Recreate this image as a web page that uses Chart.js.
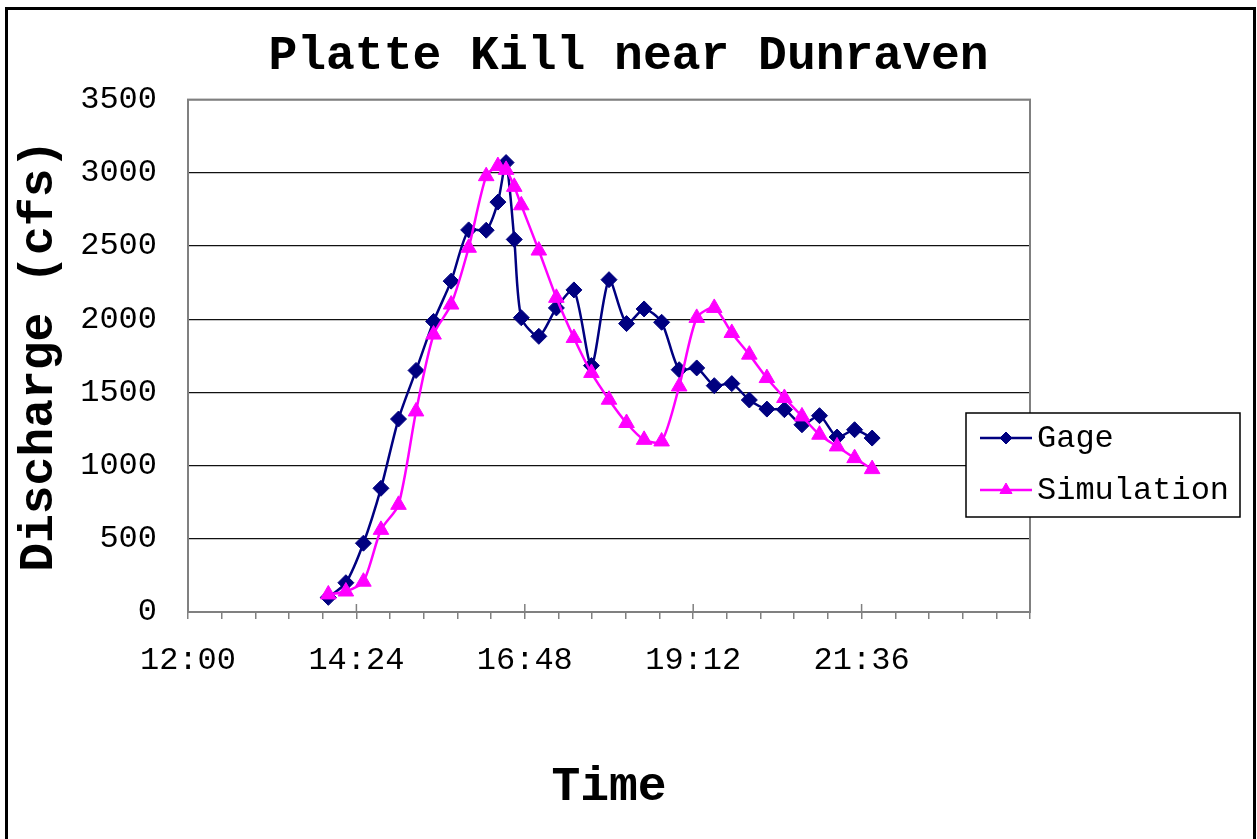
<!DOCTYPE html>
<html>
<head>
<meta charset="utf-8">
<title>Platte Kill near Dunraven</title>
<script src="https://cdn.jsdelivr.net/npm/chart.js@4.4.1/dist/chart.umd.min.js"></script>
<style>
  html, body { margin: 0; padding: 0; background: #fff; overflow: hidden; }
  #wrap { position: relative; width: 1257px; height: 839px; }
  #frame { position: absolute; left: 5px; top: 7px; width: 1245px; height: 900px; border: 3px solid #000; pointer-events: none; }
</style>
</head>
<body>
<div id="wrap">
  <canvas id="flowChart" width="1257" height="839"></canvas>
  <div id="frame"></div>
</div>
<script>
const gageTimes = ["14:00", "14:15", "14:30", "14:45", "15:00", "15:15", "15:30", "15:45",
  "16:00", "16:15", "16:25", "16:32", "16:39", "16:45", "17:00", "17:15", "17:30", "17:45",
  "18:00", "18:15", "18:30", "18:45", "19:00", "19:15", "19:30", "19:45", "20:00", "20:15",
  "20:30", "20:45", "21:00", "21:15", "21:30", "21:45"];
const gageFlow = [100, 200, 470, 845, 1318, 1650, 1985, 2260,
  2610, 2608, 2800, 3070, 2545, 2010, 1883, 2077, 2200, 1683,
  2270, 1970, 2070, 1979, 1655, 1667, 1546, 1560, 1448, 1386,
  1382, 1279, 1341, 1195, 1245, 1188];

const simTimes = gageTimes;
const simFlow = [120, 140, 207, 561, 732, 1370, 1895, 2100,
  2488, 2977, 3046, 3020, 2904, 2778, 2469, 2146, 1872, 1633,
  1450, 1291, 1176, 1165, 1541, 2009, 2077, 1906, 1758, 1598,
  1462, 1336, 1211, 1131, 1051, 976];

// x axis runs noon to midnight, labelled every 2.4 h with 5 minor ticks between
const xMajorLabels = ["12:00", "14:24", "16:48", "19:12", "21:36"];
const yStep = 500;
const yMax = 3500;

function toMinutes(t) {
  const parts = t.split(":");
  return parseInt(parts[0]) * 60 + parseInt(parts[1]);
}

function toPoints(times, values) {
  return times.map((t, i) => ({ x: toMinutes(t), y: values[i] }));
}

const monoFont = '"Liberation Mono", "Courier New", monospace';

// gray frame round the plot area plus the major ticks that cross the axis
const plotFrame = {
  id: "plotFrame",
  beforeDatasetsDraw(chart) {
    const { ctx, chartArea } = chart;
    const xScale = chart.scales.x;
    ctx.save();
    ctx.strokeStyle = "#808080";
    ctx.lineWidth = 2;
    ctx.strokeRect(chartArea.left, chartArea.top, chartArea.width, chartArea.height);
    ctx.lineWidth = 1.5;
    xScale.ticks.forEach((tick) => {
      if (!tick.label) return;
      const px = xScale.getPixelForValue(tick.value);
      ctx.beginPath();
      ctx.moveTo(px, chartArea.bottom - 8);
      ctx.lineTo(px, chartArea.bottom);
      ctx.stroke();
    });
    ctx.restore();
  }
};

// boxed legend sitting over the right edge of the plot, like the original
const legendBox = {
  id: "legendBox",
  afterDraw(chart) {
    const ctx = chart.ctx;
    const left = 966, top = 413, w = 274, h = 104;
    ctx.save();
    ctx.fillStyle = "#fff";
    ctx.fillRect(left, top, w, h);
    ctx.strokeStyle = "#000";
    ctx.lineWidth = 1.5;
    ctx.strokeRect(left, top, w, h);
    chart.data.datasets.forEach((ds, i) => {
      const y = top + 25 + i * 52;
      ctx.strokeStyle = ds.borderColor;
      ctx.fillStyle = ds.backgroundColor;
      ctx.lineWidth = 2.5;
      ctx.beginPath();
      ctx.moveTo(left + 14, y);
      ctx.lineTo(left + 66, y);
      ctx.stroke();
      ctx.lineWidth = 1;
      Chart.helpers.drawPoint(ctx, {
        pointStyle: ds.pointStyle,
        radius: ds.pointStyle === "triangle" ? 7 : 6,
        borderWidth: 1
      }, left + 40, y);
      ctx.fillStyle = "#000";
      ctx.font = "32px " + monoFont;
      ctx.textBaseline = "middle";
      ctx.textAlign = "left";
      ctx.fillText(ds.label, left + 71, y + 1);
    });
    ctx.restore();
  }
};

const ctx = document.getElementById("flowChart").getContext("2d");
new Chart(ctx, {
  type: "line",
  data: {
    datasets: [
      {
        label: "Gage",
        data: toPoints(gageTimes, gageFlow),
        borderColor: "#000080",
        backgroundColor: "#000080",
        borderWidth: 2.5,
        pointStyle: "rectRot",
        pointRadius: 8,
        pointBorderWidth: 1,
        tension: 0.25,
        order: 1
      },
      {
        label: "Simulation",
        data: toPoints(simTimes, simFlow),
        borderColor: "#FF00FF",
        backgroundColor: "#FF00FF",
        borderWidth: 2.5,
        pointStyle: "triangle",
        pointRadius: 9,
        pointBorderWidth: 1,
        tension: 0.25,
        order: 0
      }
    ]
  },
  options: {
    responsive: false,
    animation: false,
    layout: { padding: 0 },
    plugins: {
      legend: { display: false },
      tooltip: { enabled: false },
      title: {
        display: true,
        text: "Platte Kill near Dunraven",
        color: "#000",
        font: { family: monoFont, size: 48, weight: "bold" },
        padding: { top: 28, bottom: 14 }
      }
    },
    scales: {
      x: {
        type: "linear",
        min: toMinutes("12:00"),
        max: toMinutes("24:00"),
        afterFit(scale) {
          scale.height = 227;
          scale.paddingRight = 227;
        },
        ticks: {
          stepSize: 28.8,
          autoSkip: false,
          maxRotation: 0,
          padding: 22,
          color: "#000",
          font: { family: monoFont, size: 32 },
          callback: function(value, index) {
            if (index % 5 !== 0) return "";
            return xMajorLabels[index / 5] || "";
          }
        },
        grid: {
          drawOnChartArea: false,
          drawTicks: true,
          tickLength: 7,
          tickColor: "#808080",
          lineWidth: 1.5
        },
        border: { color: "#808080", width: 2 },
        title: {
          display: true,
          text: "Time",
          color: "#000",
          font: { family: monoFont, size: 48, weight: "bold" },
          padding: { top: 0, bottom: 22 }
        }
      },
      y: {
        min: 0,
        max: yMax,
        afterFit(scale) {
          scale.width = 188;
        },
        ticks: {
          stepSize: yStep,
          padding: 31,
          color: "#000",
          font: { family: monoFont, size: 32 },
          callback: function(value) {
            return String(value);
          }
        },
        grid: {
          color: "#111",
          lineWidth: 1.3,
          drawTicks: false
        },
        border: { color: "#808080", width: 2 },
        title: {
          display: true,
          text: "Discharge (cfs)",
          color: "#000",
          font: { family: monoFont, size: 48, weight: "bold" },
          padding: { top: 11, bottom: 0 }
        }
      }
    }
  },
  plugins: [plotFrame, legendBox]
});
</script>
</body>
</html>
